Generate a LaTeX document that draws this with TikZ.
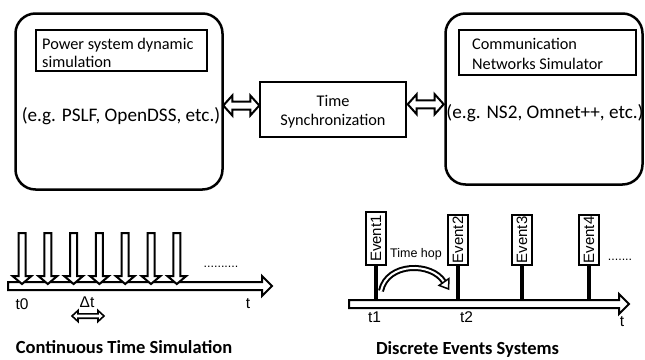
\documentclass[tikz,border=0pt]{standalone}
\usepackage{fontspec}
\setmainfont{Carlito}
\newfontfamily\arialf{Liberation Sans}
\usetikzlibrary{calc}
\begin{document}
\begin{tikzpicture}[x=1pt,y=-1pt,
  bigbox/.style={draw, line width=2.5pt, rounded corners=20pt, inner sep=0pt},
  sbox/.style={draw, line width=2.3pt, inner sep=0pt},
  blk/.style={draw, line width=2pt, fill=white, line join=miter},
  evbox/.style={draw, line width=2.5pt, fill=white, rotate=90, inner sep=0pt,
    minimum height=20pt, font=\arialf\fontsize{15}{15}\selectfont},
  stemline/.style={line width=4pt},
  toptxt/.style={inner sep=0pt, font=\fontsize{16.3}{18}\selectfont},
  egtxt/.style={inner sep=0pt, font=\fontsize{19.2}{22}\selectfont},
  boldtxt/.style={inner sep=0pt, font=\bfseries\fontsize{18.5}{20}\selectfont},
  lbl/.style={inner sep=0pt, font=\arialf\fontsize{15.5}{16}\selectfont},
  dots/.style={inner sep=0pt, font=\arialf\fontsize{12.5}{13}\selectfont},
  pics/dblarr/.style={code={
    \draw[blk] (-18,0)--(-9,-10)--(-9,-4)--(9,-4)--(9,-10)--(18,0)--(9,10)--(9,4)--(-9,4)--(-9,10)--cycle;}},
  pics/smalldbl/.style={code={
    \draw[blk, line width=1.6pt] (-16,0)--(-10,-5.5)--(-10,-2.2)--(10,-2.2)--(10,-5.5)--(16,0)--(10,5.5)--(10,2.2)--(-10,2.2)--(-10,5.5)--cycle;}},
  pics/downarr/.style={code={
    \draw[blk] (-3.5,0)--(-3.5,43)--(-9.5,43)--(0,51)--(9.5,43)--(3.5,43)--(3.5,0)--cycle;}}
]
\useasboundingbox (0,0) rectangle (645,359);

% ---------- top part ----------
\node[bigbox, minimum width=207pt, minimum height=176pt] (L) at (119,101.5) {};
\node[bigbox, minimum width=197pt, minimum height=171pt] (R) at (544,99) {};
\node[sbox, minimum width=171pt, minimum height=41pt] (LI) at (121.5,50.5) {};
\node[sbox, minimum width=177pt, minimum height=45pt] (RI) at (547.5,52.5) {};
\node[sbox, minimum width=146pt, minimum height=55pt] (S) at (333,109.5) {};

\node[toptxt, anchor=base west] (l1) at (42,49.3) {Power system dynamic};
\node[toptxt, anchor=base west] (l2) at (42,67.7) {simulation};
\node[toptxt, anchor=base west] (r1) at (472,49.3) {Communication};
\node[toptxt, anchor=base west] (r2) at (472,69) {Networks Simulator};
\node[toptxt, anchor=base] (s1) at (333,106) {Time};
\node[toptxt, anchor=base] (s2) at (333,125) {Synchronization};
\node[egtxt, anchor=base] (leg) at (121,121.5) {(e.g. PSLF, OpenDSS, etc.)};
\node[egtxt, anchor=base] (reg) at (545,118) {(e.g. NS2, Omnet++, etc.)};

\pic at ($(L.east)!0.5!(S.west)$) {dblarr};
\pic at ($(S.east)!0.5!(R.west)$) {dblarr};

% ---------- bottom left: continuous time ----------
\draw[blk] (8,282)--(262,282)--(262,276)--(272,286)--(262,296)--(262,290)--(8,290)--cycle;
\foreach \i in {0,...,6} {
  \pic at (22+25.8*\i,233) {downarr};
}
\node[dots, anchor=base] (d1) at (221,267) {..........};
\node[lbl] (t0) at (22,304) {t0};
\node[lbl] (dt) at (87,302) {Δt};
\node[lbl] (tA) at (248,304) {t};
\pic at (88,316) {smalldbl};
\node[boldtxt, anchor=base] (cts) at (124,353) {Continuous Time Simulation};

% ---------- bottom right: discrete events ----------
\coordinate (barT) at (349,300);
\node[evbox, minimum width=53pt] (E1) at (376,238.5) {Event1};
\node[evbox, minimum width=50pt] (E2) at (458,240) {Event2};
\node[evbox, minimum width=50pt] (E3) at (522,240) {Event3};
\node[evbox, minimum width=50pt] (E4) at (589,240) {Event4};
\foreach \e in {E1,E2,E3,E4} {
  \draw[stemline] (\e.west) -- (\e.west |- barT);
}
\draw[blk] (349,300)--(619,300)--(619,294)--(629,304)--(619,314)--(619,308)--(349,308)--cycle;

\draw[line width=6pt] (381,291) .. controls (387,262) and (432,262) .. (444,282);
\draw[line width=2pt, white] (381,291) .. controls (387,262) and (432,262) .. (444,282);
\draw[blk, line width=1.5pt] (448.9,278.6) -- (448.6,289) -- (439.1,285.4) -- cycle;

\node[lbl, font=\arialf\fontsize{12.5}{13}\selectfont] (hop) at (416,254) {Time hop};
\node[dots, anchor=base] (d2) at (620,260) {.......};
\node[lbl] (t1) at (374.5,317.5) {t1};
\node[lbl] (t2) at (466.5,317.5) {t2};
\node[lbl] (tB) at (622,322) {t};
\node[boldtxt, anchor=base] (des) at (467.5,354) {Discrete Events Systems};
\end{tikzpicture}
\end{document}
